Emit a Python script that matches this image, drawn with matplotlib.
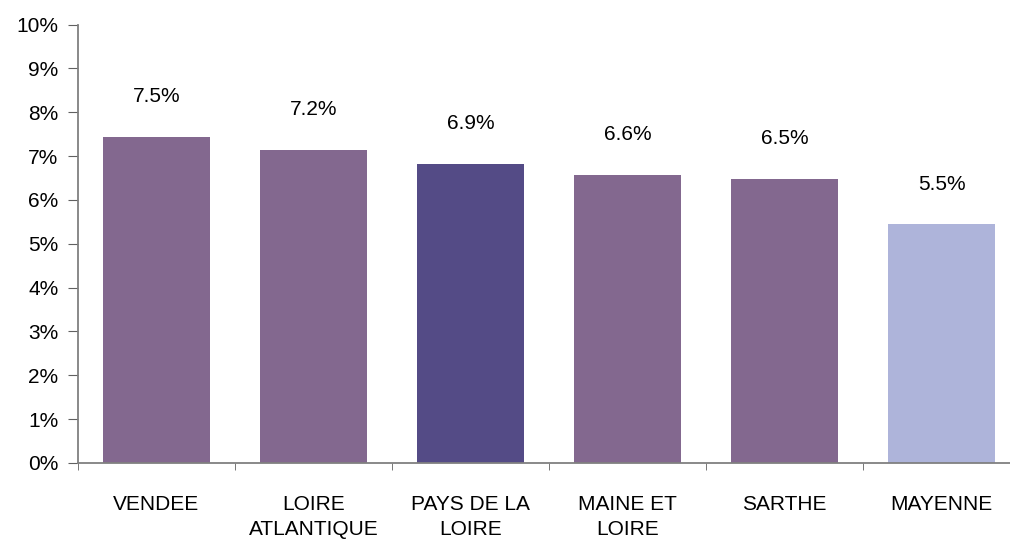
import numpy as np
import matplotlib
matplotlib.use("Agg")
from matplotlib import pyplot as plt

plt.rcParams['font.family'] = ['Liberation Sans', 'DejaVu Sans']

categories = ['VENDEE', 'LOIRE\nATLANTIQUE', 'PAYS DE LA\nLOIRE', 'MAINE ET\nLOIRE', 'SARTHE', 'MAYENNE']
values = [7.44, 7.14, 6.83, 6.57, 6.48, 5.45]
value_labels = ['7.5%', '7.2%', '6.9%', '6.6%', '6.5%', '5.5%']
colors = ['#83688F', '#83688F', '#544B86', '#83688F', '#83688F', '#AEB4DA']
y_ticks = list(range(0, 11))

fig = plt.figure(figsize=(10.10, 5.41), dpi=100)
ax = fig.add_axes([78 / 1010, 78 / 541, 942 / 1010, 438.5 / 541])

x = np.arange(len(categories))
ax.bar(x, values, width=0.68, color=colors)

for xi, v, lab in zip(x, values, value_labels):
    ax.annotate(lab, (xi, v), xytext=(0, 40), textcoords='offset pixels',
                ha='center', va='center', fontsize=15)

ax.set_xlim(-0.5, len(categories) - 0.5)
ax.set_ylim(0, 10)
ax.set_yticks(y_ticks)
ax.set_yticklabels([f'{t}%' for t in y_ticks], fontsize=15)

ax.set_xticks(x)
ax.set_xticklabels(categories, fontsize=15, linespacing=1.42, multialignment='center')
ax.set_xticks(np.arange(-0.5, len(categories)), minor=True)
ax.tick_params(axis='x', which='major', length=0, pad=23)
ax.tick_params(axis='x', which='minor', length=5, color='#606060', direction='out')
ax.tick_params(axis='y', length=7, color='#606060', direction='out', pad=7)

for side in ['top', 'right']:
    ax.spines[side].set_visible(False)
for side in ['left', 'bottom']:
    ax.spines[side].set_color('#808080')
    ax.spines[side].set_linewidth(1.3)

fig.savefig('out.png', dpi=100)
